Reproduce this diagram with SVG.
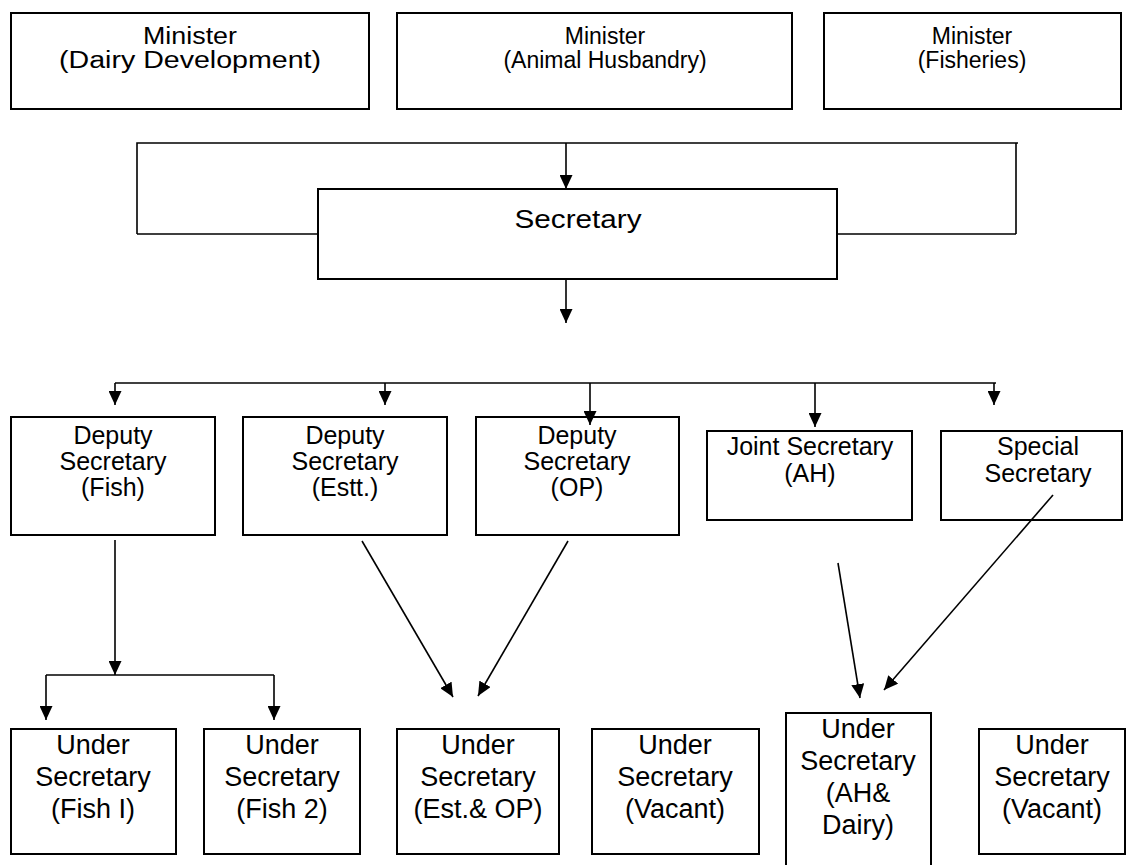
<svg xmlns="http://www.w3.org/2000/svg" width="1130" height="865" viewBox="0 0 1130 865">
<style>
  .box { fill: #ffffff; stroke: #000000; stroke-width: 2; }
  .t { font-family: "Liberation Sans", Arial, sans-serif; fill: #000000; text-anchor: middle; }
  .min { font-size: 23px; }
  .sec { font-size: 26px; }
  .dep { font-size: 25px; }
  .und { font-size: 27px; }
  .ln { fill: none; stroke: #000000; stroke-width: 1.6; }
  .arr { fill: none; stroke: #000000; stroke-width: 1.6; marker-end: url(#ah); }
</style>
<defs>
  <marker id="ah" markerWidth="14" markerHeight="13" refX="14" refY="6.5" orient="auto" markerUnits="userSpaceOnUse">
    <path d="M0,0 L14,6.5 L0,13 z" fill="#000000"/>
  </marker>
</defs>
<rect width="1130" height="865" fill="#ffffff"/>

<g id="minister-dairy">
  <rect class="box" x="11" y="13" width="358" height="96"/>
  <text class="t min" x="190" y="44" textLength="94" lengthAdjust="spacingAndGlyphs">Minister</text>
  <text class="t min" x="190" y="68" textLength="262" lengthAdjust="spacingAndGlyphs">(Dairy Development)</text>
</g>
<g id="minister-ah">
  <rect class="box" x="397" y="13" width="395" height="96"/>
  <text class="t min" x="605" y="44">Minister</text>
  <text class="t min" x="605" y="68">(Animal Husbandry)</text>
</g>
<g id="minister-fish">
  <rect class="box" x="824" y="13" width="297" height="96"/>
  <text class="t min" x="972" y="44">Minister</text>
  <text class="t min" x="972" y="68">(Fisheries)</text>
</g>

<g id="secretary">
  <rect class="box" x="318" y="189" width="519" height="90"/>
  <text class="t sec" x="578" y="228" textLength="127" lengthAdjust="spacingAndGlyphs">Secretary</text>
</g>

<g id="dep-fish">
  <rect class="box" x="11" y="417" width="204" height="118"/>
  <text class="t dep" x="113" y="444">Deputy</text>
  <text class="t dep" x="113" y="470">Secretary</text>
  <text class="t dep" x="113" y="496">(Fish)</text>
</g>
<g id="dep-estt">
  <rect class="box" x="243" y="417" width="204" height="118"/>
  <text class="t dep" x="345" y="444">Deputy</text>
  <text class="t dep" x="345" y="470">Secretary</text>
  <text class="t dep" x="345" y="496">(Estt.)</text>
</g>
<g id="dep-op">
  <rect class="box" x="476" y="417" width="203" height="118"/>
  <text class="t dep" x="577" y="444">Deputy</text>
  <text class="t dep" x="577" y="470">Secretary</text>
  <text class="t dep" x="577" y="496">(OP)</text>
</g>
<g id="joint-ah">
  <rect class="box" x="707" y="431" width="205" height="89"/>
  <text class="t dep" x="810" y="455">Joint Secretary</text>
  <text class="t dep" x="810" y="482">(AH)</text>
</g>
<g id="special">
  <rect class="box" x="941" y="431" width="181" height="89"/>
  <text class="t dep" x="1038" y="455">Special</text>
  <text class="t dep" x="1038" y="482">Secretary</text>
</g>

<g id="us-fish1">
  <rect class="box" x="11" y="729" width="165" height="125"/>
  <text class="t und" x="93" y="754">Under</text>
  <text class="t und" x="93" y="786">Secretary</text>
  <text class="t und" x="93" y="818">(Fish I)</text>
</g>
<g id="us-fish2">
  <rect class="box" x="204" y="729" width="156" height="125"/>
  <text class="t und" x="282" y="754">Under</text>
  <text class="t und" x="282" y="786">Secretary</text>
  <text class="t und" x="282" y="818">(Fish 2)</text>
</g>
<g id="us-estop">
  <rect class="box" x="397" y="729" width="162" height="125"/>
  <text class="t und" x="478" y="754">Under</text>
  <text class="t und" x="478" y="786">Secretary</text>
  <text class="t und" x="478" y="818">(Est.&amp; OP)</text>
</g>
<g id="us-vacant1">
  <rect class="box" x="592" y="729" width="167" height="125"/>
  <text class="t und" x="675" y="754">Under</text>
  <text class="t und" x="675" y="786">Secretary</text>
  <text class="t und" x="675" y="818">(Vacant)</text>
</g>
<g id="us-ahdairy">
  <rect class="box" x="786" y="713" width="145" height="160"/>
  <text class="t und" x="858" y="738">Under</text>
  <text class="t und" x="858" y="770">Secretary</text>
  <text class="t und" x="858" y="802">(AH&amp;</text>
  <text class="t und" x="858" y="834">Dairy)</text>
</g>
<g id="us-vacant2">
  <rect class="box" x="979" y="729" width="146" height="125"/>
  <text class="t und" x="1052" y="754">Under</text>
  <text class="t und" x="1052" y="786">Secretary</text>
  <text class="t und" x="1052" y="818">(Vacant)</text>
</g>

<g id="connectors">
  <path class="ln" d="M137,234 H318 M837,234 H1016 M137,234 V143 H1018 M1016,143 V234"/>
  <path class="arr" d="M566,143 V189"/>
  <path class="arr" d="M566,279 V323"/>
  <path class="ln" d="M115,383 H996"/>
  <path class="arr" d="M115,383 V405"/>
  <path class="arr" d="M385,383 V405"/>
  <path class="arr" d="M590,383 V425"/>
  <path class="arr" d="M815,383 V427"/>
  <path class="arr" d="M994,383 V405"/>
  <path class="arr" d="M115,540 V675"/>
  <path class="ln" d="M46,675 H274"/>
  <path class="arr" d="M46,675 V720"/>
  <path class="arr" d="M274,675 V720"/>
  <path class="arr" d="M362,541 L453,697"/>
  <path class="arr" d="M568,541 L478,696"/>
  <path class="arr" d="M838,563 L860,698"/>
  <path class="arr" d="M1053,495 L884,690"/>
</g>
</svg>
